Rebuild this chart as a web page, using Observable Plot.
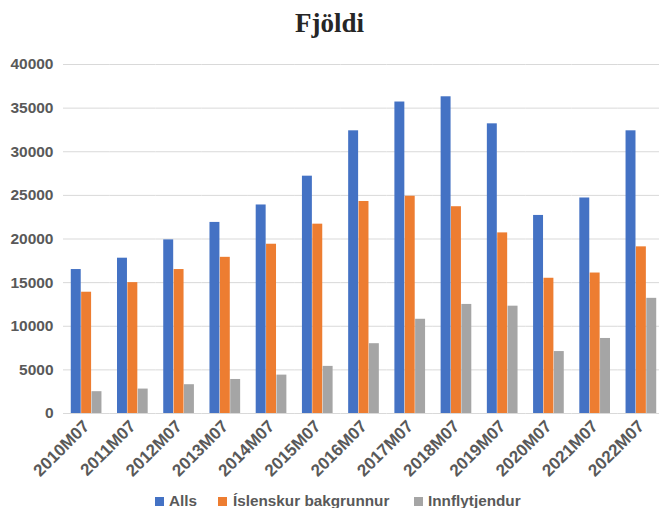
<!DOCTYPE html>
<html>
<head>
<meta charset="utf-8">
<script src="https://cdn.jsdelivr.net/npm/d3@7"></script>
<script src="https://cdn.jsdelivr.net/npm/@observablehq/plot@0.6"></script>
<style>
  html, body { margin: 0; padding: 0; background: #fff; }
  #wrap { position: relative; width: 659px; height: 508px; overflow: hidden; font-family: "Liberation Sans", Arial, sans-serif; }
  #title { position: absolute; top: 8px; left: 0; width: 659px; text-align: center; font: bold 27px "Liberation Serif", serif; color: #262626; }
  #chart { position: absolute; top: 50px; left: 0; width: 659px; overflow: hidden; }
  #legend { position: absolute; top: 0; left: 0; width: 659px; height: 508px; font: bold 15.3px "Liberation Sans", Arial, sans-serif; color: #595959; }
  .sw { position: absolute; width: 9px; height: 9px; }
  .tx { position: absolute; white-space: nowrap; line-height: 17px; }
</style>
</head>
<body>
<div id="wrap">
  <div id="title">Fjöldi</div>
  <div id="chart"></div>
  <div id="legend"></div>
</div>
<script>
const years = ["2010M07","2011M07","2012M07","2013M07","2014M07","2015M07","2016M07","2017M07","2018M07","2019M07","2020M07","2021M07","2022M07"];
const seriesNames = ["Alls", "Íslenskur bakgrunnur", "Innflytjendur"];
const alls = [16500,17800,19900,21900,23900,27200,32400,35700,36300,33200,22700,24700,32400];
const islenskur = [13900,15000,16500,17900,19400,21700,24300,24900,23700,20700,15500,16100,19100];
const innflytjendur = [2500,2800,3300,3900,4400,5400,8000,10800,12500,12300,7100,8600,13200];
const colors = ["#4472C4", "#ED7D31", "#A5A5A5"];
const yTicks = [0,5000,10000,15000,20000,25000,30000,35000,40000];

const seriesValues = [alls, islenskur, innflytjendur];
const data = [];
years.forEach((yr, i) => {
  seriesNames.forEach((s, j) => data.push({year: yr, series: s, value: seriesValues[j][i]}));
});

const chart = Plot.plot({
  width: 659,
  height: 440,
  marginTop: 14,
  marginBottom: 77,
  marginLeft: 63,
  marginRight: 0,
  style: {fontFamily: "Liberation Sans, Arial, sans-serif", fontSize: "15.5px", fontWeight: "bold", color: "#595959", background: "#fff", overflow: "hidden"},
  fx: {domain: years, padding: 0, round: false, range: [63, 664], label: null},
  x: {domain: seriesNames, paddingInner: 0.04, paddingOuter: 0.75, round: false, axis: null},
  y: {domain: [0, 40000], label: null},
  color: {domain: seriesNames, range: colors},
  marks: [
    Plot.ruleY(yTicks, {stroke: "#d9d9d9", strokeWidth: 1}),
    Plot.barY(data, {fx: "year", x: "series", y: "value", fill: "series"}),
    Plot.axisY({ticks: yTicks, tickSize: 0, tickPadding: 10, label: null, tickFormat: d => String(d)}),
    Plot.axisFx({anchor: "bottom", tickRotate: -45, tickSize: 0, tickPadding: 10, label: null, fontSize: 17})
  ]
});
document.getElementById("chart").appendChild(chart);

const legend = document.getElementById("legend");
const swLefts = [155, 218, 414];
const txLefts = [169, 233, 428];
seriesNames.forEach((s, j) => {
  const sw = document.createElement("div");
  sw.className = "sw";
  sw.style.left = swLefts[j] + "px";
  sw.style.top = "497px";
  sw.style.background = colors[j];
  const tx = document.createElement("div");
  tx.className = "tx";
  tx.style.left = txLefts[j] + "px";
  tx.style.top = "492px";
  tx.textContent = s;
  legend.appendChild(sw);
  legend.appendChild(tx);
});
</script>
</body>
</html>
